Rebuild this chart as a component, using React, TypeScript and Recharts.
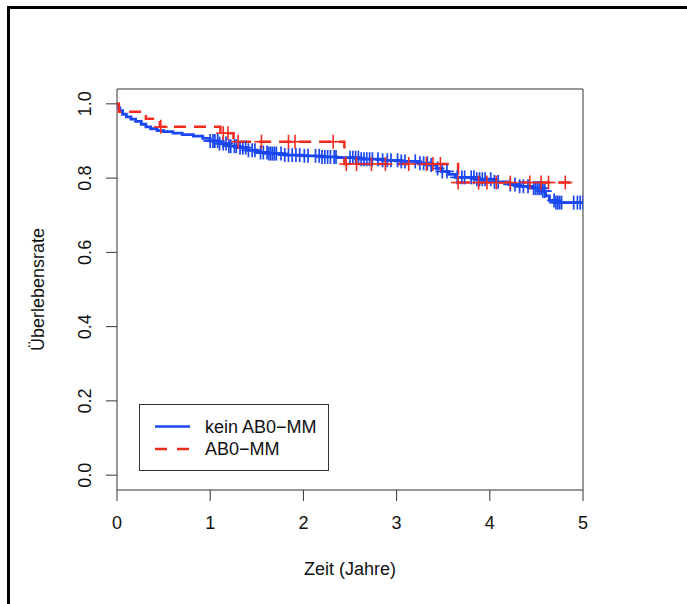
import {
  ComposedChart,
  Line,
  Scatter,
  XAxis,
  YAxis,
  ReferenceArea,
  Legend,
} from 'recharts';

const FONT = '"Liberation Sans", Arial, Helvetica, sans-serif';
const BLUE = '#1a47f2';
const RED = '#f52a1f';

// kein AB0-MM: step times and survival after each step
const blueTimes = [
  0, 0.01, 0.03, 0.06, 0.1, 0.15, 0.2, 0.26, 0.31, 0.36, 0.43, 0.5, 0.6, 0.7,
  0.82, 0.92, 1.0, 1.1, 1.2, 1.29, 1.4, 1.5, 1.62, 1.8, 2.0, 2.2, 2.36, 2.6,
  2.85, 3.05, 3.25, 3.36, 3.43, 3.48, 3.56, 3.63, 3.85, 4.05, 4.2, 4.3, 4.45,
  4.56, 4.6, 4.64, 4.71, 5.0,
];
const blueSurv = [
  1.0, 0.99, 0.982, 0.972, 0.965, 0.959, 0.953, 0.945, 0.938, 0.933, 0.928,
  0.925, 0.921, 0.917, 0.913, 0.907, 0.9, 0.893, 0.886, 0.882, 0.875, 0.869,
  0.866, 0.862, 0.86, 0.857, 0.855, 0.851, 0.848, 0.845, 0.84, 0.835, 0.826,
  0.818, 0.81, 0.802, 0.797, 0.79, 0.783, 0.778, 0.773, 0.765, 0.752, 0.74,
  0.734, 0.734,
];
// censored observations
const blueCensor = [
  1.0, 1.03, 1.05, 1.08, 1.1, 1.14, 1.17, 1.2, 1.22, 1.26, 1.28, 1.32, 1.35,
  1.38, 1.41, 1.45, 1.48, 1.54, 1.57, 1.61, 1.63, 1.65, 1.67, 1.69, 1.71, 1.76,
  1.8, 1.84, 1.88, 1.92, 1.96, 2.01, 2.05, 2.13, 2.17, 2.2, 2.23, 2.26, 2.29,
  2.33, 2.35, 2.5, 2.53, 2.56, 2.59, 2.62, 2.65, 2.68, 2.71, 2.74, 2.8, 2.85,
  2.9, 2.94, 3.01, 3.05, 3.09, 3.2, 3.25, 3.29, 3.33, 3.37, 3.44, 3.49, 3.54,
  3.65, 3.7, 3.73, 3.8, 3.83, 3.86, 3.89, 3.92, 3.95, 4.01, 4.05, 4.09, 4.22,
  4.27, 4.32, 4.36, 4.41, 4.47, 4.49, 4.51, 4.53, 4.55, 4.57, 4.59, 4.69, 4.71,
  4.73, 4.75, 4.77, 4.9, 4.94, 4.97, 5.0,
];

// AB0-MM
const redTimes = [0, 0.02, 0.31, 0.46, 1.11, 1.25, 2.44, 3.66, 4.91];
const redSurv = [1.0, 0.979, 0.96, 0.938, 0.921, 0.898, 0.838, 0.788, 0.788];
const redCensor = [
  0.47, 1.14, 1.19, 1.3, 1.55, 1.84, 1.91, 2.32, 2.46, 2.57, 2.73, 2.88, 3.13,
  3.32, 3.39, 3.47, 3.66, 3.88, 3.97, 4.07, 4.22, 4.43, 4.55, 4.63, 4.81,
];

const xTicks = [0, 1, 2, 3, 4, 5];
const yTicks = [0, 0.2, 0.4, 0.6, 0.8, 1.0];
const seriesNames = ['kein AB0\u2212MM', 'AB0\u2212MM'];

type Pt = { t: number; s: number };

const toSteps = (times: number[], surv: number[]): Pt[] =>
  times.map((t, i) => ({ t, s: surv[i] }));

const survAt = (steps: Pt[], t: number) => {
  let s = steps[0].s;
  for (const p of steps) if (p.t <= t) s = p.s;
  return s;
};

const blueSteps = toSteps(blueTimes, blueSurv);
const redSteps = toSteps(redTimes, redSurv);
const blueMarks = blueCensor.map((t) => ({ t, s: survAt(blueSteps, t) }));
const redMarks = redCensor.map((t) => ({ t, s: survAt(redSteps, t) }));

const plus = (color: string, w: number) => (props: any) => {
  const { cx, cy } = props;
  return (
    <g stroke={color} strokeWidth={w}>
      <line x1={cx - 7} x2={cx + 7} y1={cy} y2={cy} />
      <line x1={cx} x2={cx} y1={cy - 7} y2={cy + 7} />
    </g>
  );
};

const YTick = (props: any) => {
  const { x, y, payload } = props;
  return (
    <text
      x={x}
      y={y}
      transform={`rotate(-90, ${x}, ${y})`}
      textAnchor="middle"
      dominantBaseline="central"
      fontSize={18}
      fontFamily={FONT}
      fill="#111"
    >
      {Number(payload.value).toFixed(1)}
    </text>
  );
};

const LegendBox = () => (
  <svg width={190} height={67} style={{ display: 'block' }}>
    <rect x={0.5} y={0.5} width={189} height={66} fill="#fff" stroke="#333" />
    <line x1={16} x2={51} y1={22.5} y2={22.5} stroke={BLUE} strokeWidth={2.5} />
    <line
      x1={16}
      x2={51}
      y1={45}
      y2={45}
      stroke={RED}
      strokeWidth={2.5}
      strokeDasharray="12 10"
    />
    {seriesNames.map((n, i) => (
      <text
        key={n}
        x={66}
        y={22.5 + i * 22.5}
        dominantBaseline="central"
        fontSize={18}
        fontFamily={FONT}
        fill="#111"
      >
        {n}
      </text>
    ))}
  </svg>
);

export default function App() {
  return (
    <div
      style={{
        position: 'absolute',
        left: 0,
        top: 0,
        width: 687,
        height: 604,
        overflow: 'hidden',
        background: '#fff',
      }}
    >
      <div
        style={{
          position: 'absolute',
          left: 7,
          top: 6,
          width: 720,
          height: 700,
          borderTop: '3px solid #000',
          borderLeft: '3px solid #000',
        }}
      />
      <div style={{ position: 'absolute', left: 0, top: 0 }}>
        <ComposedChart
          width={687}
          height={604}
          margin={{ top: 89, right: 104, bottom: 14, left: 0 }}
        >
          <XAxis
            dataKey="t"
            type="number"
            domain={[0, 5]}
            ticks={xTicks}
            allowDataOverflow
            axisLine={false}
            tickLine={{ stroke: '#333' }}
            tickSize={11}
            tickMargin={15}
            height={100}
            tick={{ fontSize: 18, fontFamily: FONT, fill: '#111' }}
            label={{
              content: (p: any) => {
                const vb = p.viewBox;
                return (
                  <text
                    x={vb.x + vb.width / 2}
                    y={569}
                    textAnchor="middle"
                    dominantBaseline="central"
                    fontSize={18}
                    fontFamily={FONT}
                    fill="#111"
                  >
                    Zeit (Jahre)
                  </text>
                );
              },
            }}
          />
          <YAxis
            type="number"
            domain={[-0.04, 1.04]}
            ticks={yTicks}
            allowDataOverflow
            width={117}
            axisLine={false}
            tickLine={{ stroke: '#333' }}
            tickSize={11}
            tickMargin={21}
            tick={<YTick />}
            label={{
              content: (p: any) => {
                const vb = p.viewBox;
                const cy = vb.y + vb.height / 2;
                return (
                  <text
                    x={38}
                    y={cy}
                    transform={`rotate(-90, 38, ${cy})`}
                    textAnchor="middle"
                    dominantBaseline="central"
                    fontSize={18}
                    fontFamily={FONT}
                    fill="#111"
                  >
                    Überlebensrate
                  </text>
                );
              },
            }}
          />
          <ReferenceArea
            x1={0}
            x2={5}
            y1={-0.04}
            y2={1.04}
            fill="none"
            stroke="#333"
            strokeWidth={1}
            ifOverflow="visible"
          />
          <Line
            data={blueSteps}
            dataKey="s"
            type="stepAfter"
            stroke={BLUE}
            strokeWidth={2.8}
            dot={false}
            isAnimationActive={false}
            legendType="none"
          />
          <Scatter
            data={blueMarks}
            dataKey="s"
            shape={plus(BLUE, 1.7)}
            isAnimationActive={false}
            legendType="none"
          />
          <Line
            data={redSteps}
            dataKey="s"
            type="stepAfter"
            stroke={RED}
            strokeWidth={2.5}
            strokeDasharray="12 8"
            dot={false}
            isAnimationActive={false}
            legendType="none"
          />
          <Scatter
            data={redMarks}
            dataKey="s"
            shape={plus(RED, 1.6)}
            isAnimationActive={false}
            legendType="none"
          />
          <Legend
            layout="horizontal"
            verticalAlign="middle"
            align="center"
            content={() => <LegendBox />}
            wrapperStyle={{ left: 139, top: 404, width: 190, height: 67 }}
          />
        </ComposedChart>
      </div>
    </div>
  );
}
